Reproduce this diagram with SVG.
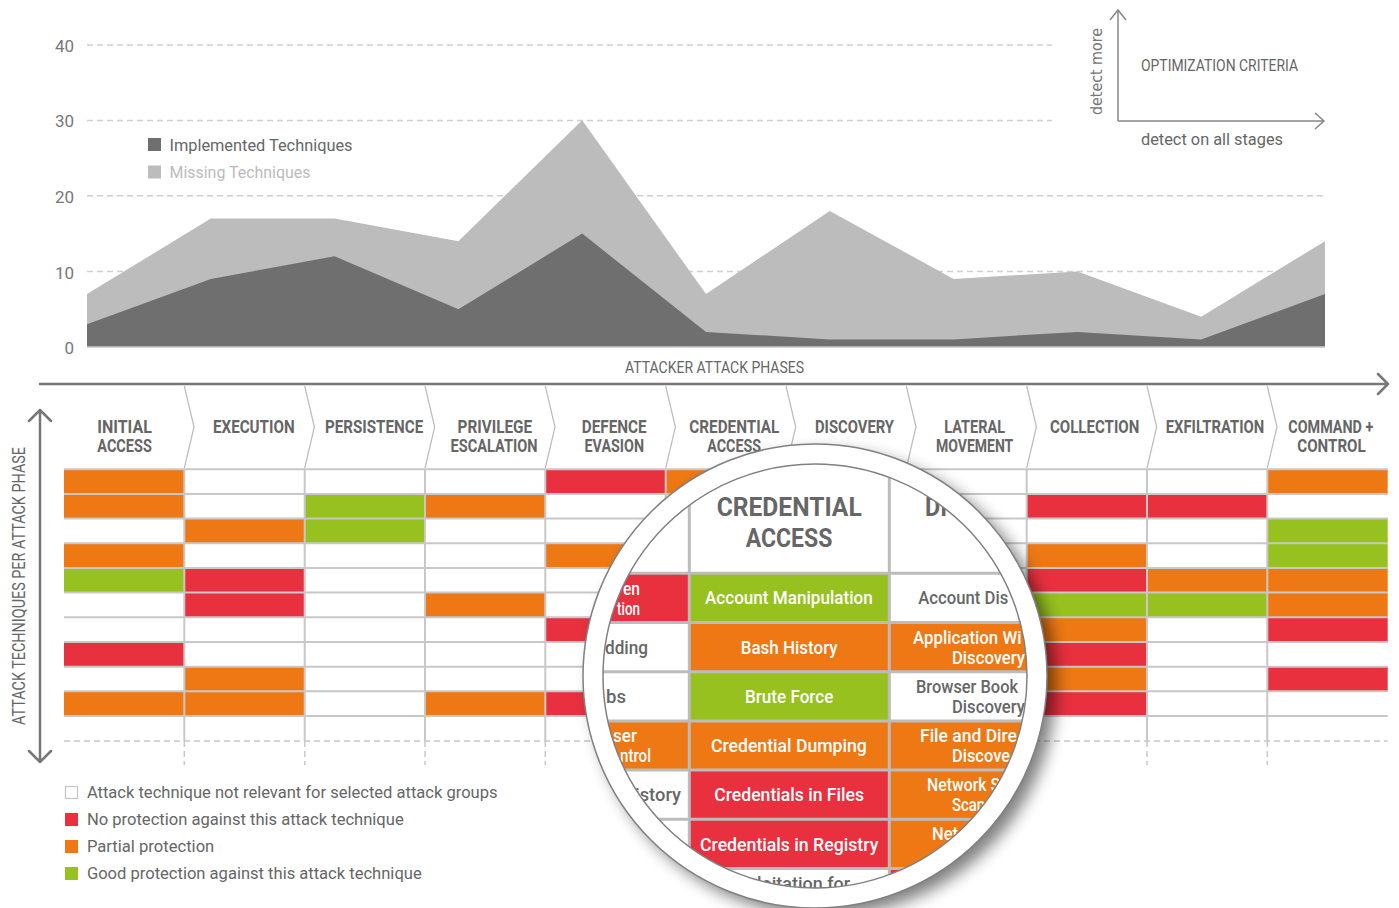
<svg xmlns="http://www.w3.org/2000/svg" width="1399" height="908" viewBox="0 0 1399 908">
<style>
.t{font-family:Roboto,'Liberation Sans',Arial,sans-serif;fill:#666}
.ax{font-size:17px;fill:#777}
.h{font-size:18px;font-weight:700}
.lg{font-size:16px}
.m{font-size:18.5px;font-weight:500;fill:#fff}
.mg{fill:#666}
.mh{font-size:25.5px;font-weight:700}
.grid{stroke:#cfcfcf;stroke-width:1.5;stroke-dasharray:6 4;fill:none}
.o{fill:#ed7814}.r{fill:#e8303f}.g{fill:#96c11f}
.rl{stroke:#c8c8c8;stroke-width:2;fill:none}
.dl{stroke:#c8c8c8;stroke-width:1.5;stroke-dasharray:6 4;fill:none}
.chev{stroke:#bbb;stroke-width:1.2;fill:none}
.arr{stroke:#777;stroke-width:2.5;fill:none;stroke-linecap:round;stroke-linejoin:round}
.arr2{stroke:#888;stroke-width:1.5;fill:none}
.ml{stroke:#bcbcbc;stroke-width:3;fill:none}
</style>
<defs>
<filter id="sh" x="-20%" y="-20%" width="140%" height="140%"><feGaussianBlur stdDeviation="8"/></filter>
<clipPath id="lens"><circle cx="815" cy="676" r="212"/></clipPath>
</defs>
<rect width="1399" height="908" fill="#fff"/>

<g id="chart">
<g id="y-axis">
<line class="grid" x1="87" y1="45" x2="1052" y2="45"/>
<line class="grid" x1="87" y1="120.4" x2="1052" y2="120.4"/>
<line class="grid" x1="87" y1="195.8" x2="1325" y2="195.8"/>
<line class="grid" x1="87" y1="271.4" x2="1325" y2="271.4"/>
<text class="t ax" x="74" y="52" text-anchor="end">40</text>
<text class="t ax" x="74" y="127" text-anchor="end">30</text>
<text class="t ax" x="74" y="203" text-anchor="end">20</text>
<text class="t ax" x="74" y="279" text-anchor="end">10</text>
<text class="t ax" x="74" y="354" text-anchor="end">0</text>
</g>
<polygon id="missing-area" fill="#bcbcbc" points="87,347 87,294.1 210.8,218.5 334.6,218.5 458.4,241.2 582.2,120.2 706,294.1 829.8,210.9 953.6,279 1077.4,271.4 1201.2,316.8 1325,241.2 1325,347"/>
<polygon id="implemented-area" fill="#6f6f6f" points="87,347 87,324.3 210.8,279 334.6,256.3 458.4,309.2 582.2,233.6 706,331.9 829.8,339.4 953.6,339.4 1077.4,331.9 1201.2,339.4 1325,294.1 1325,347"/>
<line x1="87" y1="347" x2="1325" y2="347" stroke="#c8c8c8" stroke-width="1.5"/>
<g id="chart-legend">
<rect x="148" y="138" width="13" height="13" fill="#6f6f6f"/>
<text class="t lg" x="169.5" y="150.5" textLength="183" lengthAdjust="spacingAndGlyphs">Implemented Techniques</text>
<rect x="148" y="165.5" width="13" height="13" fill="#bcbcbc"/>
<text class="t lg" x="169.5" y="178" textLength="141" lengthAdjust="spacingAndGlyphs" style="fill:#bbb">Missing Techniques</text>
</g>
<text class="t" x="625" y="373" font-size="17" textLength="179" lengthAdjust="spacingAndGlyphs">ATTACKER ATTACK PHASES</text>
</g>

<g id="optimization-criteria">
<text class="t" x="1141" y="70.5" font-size="17" textLength="157" lengthAdjust="spacingAndGlyphs">OPTIMIZATION CRITERIA</text>
<text class="t" x="1141" y="144.5" font-size="17" textLength="142" lengthAdjust="spacingAndGlyphs">detect on all stages</text>
<text x="1101.5" y="115" font-family="'DejaVu Sans',sans-serif" font-size="15" fill="#777" transform="rotate(-90 1101.5 115)" textLength="87" lengthAdjust="spacingAndGlyphs">detect more</text>
</g>

<g id="connectors">
<path class="arr2" d="M1118,121 V10 M1110,20 L1118,10 L1126,20"/>
<path class="arr2" d="M1118,121 H1324 M1315,113 L1324,121 L1315,129"/>
<path class="arr" d="M40,384 H1388 M1378,374 L1388,384 L1378,394"/>
<path class="arr" d="M40,410 V762 M29,421 L40,410 L51,421 M29,751 L40,762 L51,751"/>
</g>
<text class="t" x="24.5" y="725" font-size="18" transform="rotate(-90 24.5 725)" textLength="278" lengthAdjust="spacingAndGlyphs">ATTACK TECHNIQUES PER ATTACK PHASE</text>

<g id="phases">
<g id="phase-initial-access"><text class="t h"><tspan x="97.3" y="433.3" textLength="54.5" lengthAdjust="spacingAndGlyphs">INITIAL</tspan><tspan x="97.3" y="451.7" textLength="54.5" lengthAdjust="spacingAndGlyphs">ACCESS</tspan></text></g>
<g id="phase-execution"><path class="chev" d="M184.3,386 L194,427 L184.3,468"/><text class="t h" x="213" y="433.3" textLength="81.6" lengthAdjust="spacingAndGlyphs">EXECUTION</text></g>
<g id="phase-persistence"><path class="chev" d="M304.7,386 L314.4,427 L304.7,468"/><text class="t h" x="325" y="433.3" textLength="98.2" lengthAdjust="spacingAndGlyphs">PERSISTENCE</text></g>
<g id="phase-privilege-escalation"><path class="chev" d="M425,386 L434.7,427 L425,468"/><text class="t h"><tspan x="457.6" y="433.3" textLength="74.5" lengthAdjust="spacingAndGlyphs">PRIVILEGE</tspan><tspan x="450.5" y="451.7" textLength="87" lengthAdjust="spacingAndGlyphs">ESCALATION</tspan></text></g>
<g id="phase-defence-evasion"><path class="chev" d="M545.3,386 L555,427 L545.3,468"/><text class="t h"><tspan x="581.7" y="433.3" textLength="65" lengthAdjust="spacingAndGlyphs">DEFENCE</tspan><tspan x="584.5" y="451.7" textLength="59.5" lengthAdjust="spacingAndGlyphs">EVASION</tspan></text></g>
<g id="phase-credential-access"><path class="chev" d="M665.7,386 L675.4,427 L665.7,468"/><text class="t h"><tspan x="689.3" y="433.3" textLength="90" lengthAdjust="spacingAndGlyphs">CREDENTIAL</tspan><tspan x="707.3" y="451.7" textLength="53.7" lengthAdjust="spacingAndGlyphs">ACCESS</tspan></text></g>
<g id="phase-discovery"><path class="chev" d="M786,386 L795.7,427 L786,468"/><text class="t h" x="815" y="433.3" textLength="79" lengthAdjust="spacingAndGlyphs">DISCOVERY</text></g>
<g id="phase-lateral-movement"><path class="chev" d="M906.3,386 L916,427 L906.3,468"/><text class="t h"><tspan x="944.3" y="433.3" textLength="60.7" lengthAdjust="spacingAndGlyphs">LATERAL</tspan><tspan x="936" y="451.7" textLength="77.3" lengthAdjust="spacingAndGlyphs">MOVEMENT</tspan></text></g>
<g id="phase-collection"><path class="chev" d="M1026.7,386 L1036.4,427 L1026.7,468"/><text class="t h" x="1050" y="433.3" textLength="89.3" lengthAdjust="spacingAndGlyphs">COLLECTION</text></g>
<g id="phase-exfiltration"><path class="chev" d="M1147,386 L1156.7,427 L1147,468"/><text class="t h" x="1165.7" y="433.3" textLength="98.6" lengthAdjust="spacingAndGlyphs">EXFILTRATION</text></g>
<g id="phase-command-control"><path class="chev" d="M1267.3,386 L1277,427 L1267.3,468"/><text class="t h"><tspan x="1288.3" y="433.3" textLength="85" lengthAdjust="spacingAndGlyphs">COMMAND +</tspan><tspan x="1297.3" y="451.7" textLength="68.4" lengthAdjust="spacingAndGlyphs">CONTROL</tspan></text></g>
</g>

<g id="matrix">
<g id="col-initial-access">
<rect class="o" x="64" y="469.3" width="120.3" height="24.7"/>
<rect class="o" x="64" y="494" width="120.3" height="24.7"/>
<rect class="o" x="64" y="543.3" width="120.3" height="24.7"/>
<rect class="g" x="64" y="568" width="120.3" height="24.7"/>
<rect class="r" x="64" y="642" width="120.3" height="24.7"/>
<rect class="o" x="64" y="691.3" width="120.3" height="24.7"/>
</g>
<g id="col-execution">
<rect class="o" x="184.3" y="518.6" width="120.4" height="24.7"/>
<rect class="r" x="184.3" y="568" width="120.4" height="24.7"/>
<rect class="r" x="184.3" y="592.6" width="120.4" height="24.7"/>
<rect class="o" x="184.3" y="666.7" width="120.4" height="24.7"/>
<rect class="o" x="184.3" y="691.3" width="120.4" height="24.7"/>
</g>
<g id="col-persistence">
<rect class="g" x="304.7" y="494" width="120.3" height="24.7"/>
<rect class="g" x="304.7" y="518.6" width="120.3" height="24.7"/>
</g>
<g id="col-privilege-escalation">
<rect class="o" x="425" y="494" width="120.3" height="24.7"/>
<rect class="o" x="425" y="592.6" width="120.3" height="24.7"/>
<rect class="o" x="425" y="691.3" width="120.3" height="24.7"/>
</g>
<g id="col-defence-evasion">
<rect class="r" x="545.3" y="469.3" width="120.4" height="24.7"/>
<rect class="o" x="545.3" y="543.3" width="120.4" height="24.7"/>
<rect class="r" x="545.3" y="617.3" width="120.4" height="24.7"/>
<rect class="r" x="545.3" y="691.3" width="120.4" height="24.7"/>
</g>
<g id="col-credential-access">
<rect class="o" x="665.7" y="469.3" width="120.3" height="24.7"/>
</g>
<g id="col-collection">
<rect class="r" x="1026.7" y="494" width="120.3" height="24.7"/>
<rect class="o" x="1026.7" y="543.3" width="120.3" height="24.7"/>
<rect class="r" x="1026.7" y="568" width="120.3" height="24.7"/>
<rect class="g" x="1026.7" y="592.6" width="120.3" height="24.7"/>
<rect class="o" x="1026.7" y="617.3" width="120.3" height="24.7"/>
<rect class="r" x="1026.7" y="642" width="120.3" height="24.7"/>
<rect class="o" x="1026.7" y="666.7" width="120.3" height="24.7"/>
<rect class="r" x="1026.7" y="691.3" width="120.3" height="24.7"/>
</g>
<g id="col-exfiltration">
<rect class="r" x="1147" y="494" width="120.3" height="24.7"/>
<rect class="o" x="1147" y="568" width="120.3" height="24.7"/>
<rect class="g" x="1147" y="592.6" width="120.3" height="24.7"/>
</g>
<g id="col-command-control">
<rect class="o" x="1267.3" y="469.3" width="120.4" height="24.7"/>
<rect class="g" x="1267.3" y="518.6" width="120.4" height="24.7"/>
<rect class="g" x="1267.3" y="543.3" width="120.4" height="24.7"/>
<rect class="o" x="1267.3" y="568" width="120.4" height="24.7"/>
<rect class="o" x="1267.3" y="592.6" width="120.4" height="24.7"/>
<rect class="r" x="1267.3" y="617.3" width="120.4" height="24.7"/>
<rect class="r" x="1267.3" y="666.7" width="120.4" height="24.7"/>
</g>
<g id="matrix-lines">
<path class="rl" d="M64,469.3H1387.7M64,494H1387.7M64,518.6H1387.7M64,543.3H1387.7M64,568H1387.7M64,592.6H1387.7M64,617.3H1387.7M64,642H1387.7M64,666.7H1387.7M64,691.3H1387.7M64,716H1387.7"/>
<path class="rl" d="M184.3,469.3V741M304.7,469.3V741M425,469.3V741M545.3,469.3V741M665.7,469.3V741M786,469.3V741M906.3,469.3V741M1026.7,469.3V741M1147,469.3V741M1267.3,469.3V741"/>
<path class="dl" d="M184.3,741V765M304.7,741V765M425,741V765M545.3,741V765M665.7,741V765M786,741V765M906.3,741V765M1026.7,741V765M1147,741V765M1267.3,741V765"/>
<path class="dl" d="M64,741H1387.7"/>
</g>
</g>

<g id="legend">
<g id="legend-not-relevant"><rect x="65.5" y="786.5" width="12" height="12" fill="#fff" stroke="#c4c4c4" stroke-width="1.2"/><text class="t lg" x="86.9" y="798" textLength="410.6" lengthAdjust="spacingAndGlyphs">Attack technique not relevant for selected attack groups</text></g>
<g id="legend-no-protection"><rect class="r" x="65" y="813" width="13" height="13"/><text class="t lg" x="86.9" y="825" textLength="316.8" lengthAdjust="spacingAndGlyphs">No protection against this attack technique</text></g>
<g id="legend-partial"><rect class="o" x="65" y="840" width="13" height="13"/><text class="t lg" x="86.9" y="852" textLength="127.4" lengthAdjust="spacingAndGlyphs">Partial protection</text></g>
<g id="legend-good"><rect class="g" x="65" y="867" width="13" height="13"/><text class="t lg" x="86.9" y="879" textLength="334.8" lengthAdjust="spacingAndGlyphs">Good protection against this attack technique</text></g>
</g>

<g id="magnifier">
<circle cx="824" cy="684" r="232" fill="#000" opacity="0.5" filter="url(#sh)"/>
<circle cx="815" cy="676" r="232" fill="#fff"/>
<g clip-path="url(#lens)">
<rect x="600" y="460" width="430" height="440" fill="#fff"/>
<rect class="r" x="489" y="573.3" width="200.3" height="49.2"/>
<rect class="o" x="489" y="720.9" width="200.3" height="49.2"/>
<rect class="g" x="689.3" y="573.3" width="200" height="49.2"/>
<rect class="o" x="689.3" y="622.5" width="200" height="49.2"/>
<rect class="g" x="689.3" y="671.7" width="200" height="49.2"/>
<rect class="o" x="689.3" y="720.9" width="200" height="49.2"/>
<rect class="r" x="689.3" y="770.1" width="200" height="49.2"/>
<rect class="r" x="689.3" y="819.3" width="200" height="49.2"/>
<rect class="o" x="889.3" y="622.5" width="200" height="49.2"/>
<rect class="o" x="889.3" y="720.9" width="200" height="49.2"/>
<rect class="o" x="889.3" y="770.1" width="200" height="49.2"/>
<rect class="o" x="889.3" y="819.3" width="200" height="49.2"/>
<rect class="r" x="889.3" y="868.5" width="200" height="49.2"/>
<path class="ml" d="M689.3,465V900M889.3,465V900M590,573.3H1040M590,622.5H1040M590,671.7H1040M590,720.9H1040M590,770.1H1040M590,819.3H1040M590,868.5H1040"/>
<text class="t mh"><tspan x="716.7" y="516" textLength="145" lengthAdjust="spacingAndGlyphs">CREDENTIAL</tspan><tspan x="745.7" y="546.5" textLength="86.7" lengthAdjust="spacingAndGlyphs">ACCESS</tspan></text>
<text class="t mh" x="925" y="516" textLength="22" lengthAdjust="spacingAndGlyphs">DI</text>
<text class="t m"><tspan x="623" y="594.5" textLength="17" lengthAdjust="spacingAndGlyphs">en</tspan><tspan x="617" y="614.5" textLength="23" lengthAdjust="spacingAndGlyphs">tion</tspan></text>
<text class="t m mg" x="605" y="653.5" textLength="43" lengthAdjust="spacingAndGlyphs">dding</text>
<text class="t m mg" x="606" y="702.7" textLength="20" lengthAdjust="spacingAndGlyphs">bs</text>
<text class="t m"><tspan x="613" y="742" textLength="24" lengthAdjust="spacingAndGlyphs">ser</tspan><tspan x="620" y="762" textLength="31" lengthAdjust="spacingAndGlyphs">ntrol</tspan></text>
<text class="t m mg" x="635" y="801" textLength="46" lengthAdjust="spacingAndGlyphs">istory</text>
<text class="t m" x="705" y="604.3" textLength="167.7" lengthAdjust="spacingAndGlyphs">Account Manipulation</text>
<text class="t m" x="740.7" y="653.5" textLength="97" lengthAdjust="spacingAndGlyphs">Bash History</text>
<text class="t m" x="745" y="702.7" textLength="88.3" lengthAdjust="spacingAndGlyphs">Brute Force</text>
<text class="t m" x="711" y="752" textLength="155.7" lengthAdjust="spacingAndGlyphs">Credential Dumping</text>
<text class="t m" x="714.3" y="801" textLength="149.7" lengthAdjust="spacingAndGlyphs">Credentials in Files</text>
<text class="t m" x="700" y="850.5" textLength="178.3" lengthAdjust="spacingAndGlyphs">Credentials in Registry</text>
<text class="t m mg" x="757" y="890" textLength="93" lengthAdjust="spacingAndGlyphs">loitation for</text>
<text class="t m mg" x="918.3" y="604.3" textLength="90" lengthAdjust="spacingAndGlyphs">Account Dis</text>
<text class="t m"><tspan x="913" y="643.5" textLength="108.5" lengthAdjust="spacingAndGlyphs">Application Wi</tspan><tspan x="952" y="663.5" textLength="73" lengthAdjust="spacingAndGlyphs">Discovery</tspan></text>
<text class="t m mg"><tspan x="916" y="692.7" textLength="102" lengthAdjust="spacingAndGlyphs">Browser Book</tspan><tspan x="952" y="712.7" textLength="73" lengthAdjust="spacingAndGlyphs">Discovery</tspan></text>
<text class="t m"><tspan x="920" y="742" textLength="97" lengthAdjust="spacingAndGlyphs">File and Dire</tspan><tspan x="952" y="762" textLength="58" lengthAdjust="spacingAndGlyphs">Discove</tspan></text>
<text class="t m"><tspan x="927" y="791" textLength="73" lengthAdjust="spacingAndGlyphs">Network S</tspan><tspan x="952" y="811" textLength="33" lengthAdjust="spacingAndGlyphs">Scan</tspan></text>
<text class="t m" x="932" y="840.3" textLength="26" lengthAdjust="spacingAndGlyphs">Net</text>
</g>
<circle cx="815" cy="676" r="212" fill="none" stroke="#808080" stroke-width="1.5"/>
<circle cx="815" cy="676" r="232" fill="none" stroke="#808080" stroke-width="1.5"/>
</g>
</svg>
